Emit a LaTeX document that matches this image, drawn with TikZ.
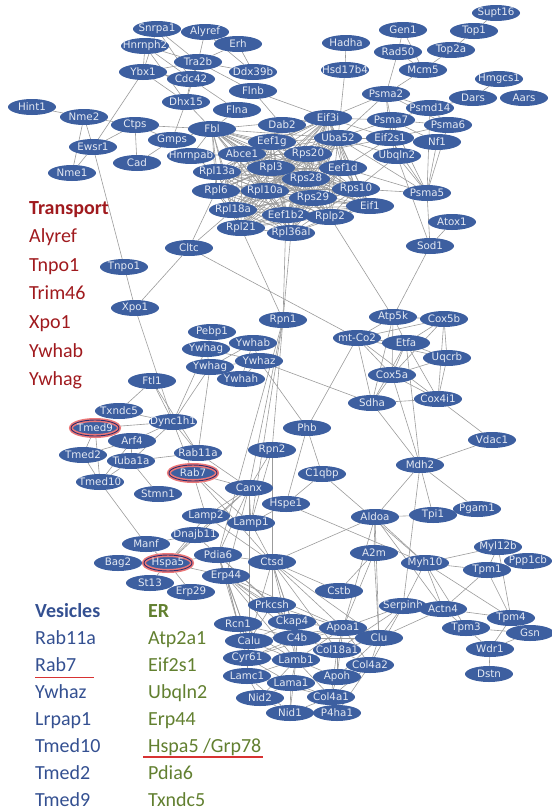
\documentclass[tikz,border=0pt]{standalone}
\usepackage{fontspec}
\setmainfont{Carlito}
\newfontfamily\genefont{DejaVu Sans}
\usetikzlibrary{shapes.geometric,backgrounds}

\definecolor{geneblue}{RGB}{61,95,160}
\definecolor{genetext}{RGB}{228,233,243}
\definecolor{edgegray}{RGB}{155,155,155}
\definecolor{glow}{RGB}{236,120,120}
\definecolor{hitline}{RGB}{45,45,110}
\definecolor{transred}{RGB}{160,26,30}
\definecolor{vesblue}{RGB}{52,80,145}
\definecolor{ergreen}{RGB}{98,128,48}
\definecolor{underred}{RGB}{215,50,50}

\newcommand{\gl}[1]{\makebox[0pt]{#1}}

\begin{document}
\begin{tikzpicture}[
		x=1pt, y=-1pt,
		gene/.style={ellipse, fill=geneblue, text=genetext, minimum width=48pt,
			minimum height=16pt, inner sep=0pt, font=\genefont\fontsize{10.3}{11}\selectfont},
		hit/.style={gene, draw=glow, line width=4pt,
			postaction={draw=hitline, line width=0.9pt}},
		edge/.style={draw=edgegray, line width=0.6pt},
		legend/.style={anchor=base west, inner sep=0pt, font=\fontsize{20}{24}\selectfont},
		legendhead/.style={legend, font=\fontsize{20}{24}\selectfont\bfseries},
		redline/.style={draw=underred, line width=1.3pt}
	]
	\useasboundingbox (0,0) rectangle (552,812);

	% protein nodes
	\foreach \n/\x/\y in {
		Snrpa1/157/29, Alyref/205/32, Erh/238/44, Hnrnph2/145/46, Tra2b/198/62,
		Ybx1/143/72, Cdc42/191/79, Ddx39b/253/72, Flnb/253/91, Dhx15/186/102,
		Flna/237/110, Hint1/32/107, Nme2/84/117, Ctps/135/125, Fbl/212/129,
		Gmps/172/140, Ewsr1/93/147, Cad/137/163, Hnrnpab/191/156, Nme1/72/173,
		Abce1/242/154, Rpl13a/217/172, Rpl6/216/191, Dab2/282/125, Eef1g/272/142,
		Eif3i/328/118, Uba52/338/138, Rps20/308/154, Rpl3/271/168, Eef1d/343/168,
		Rps28/306/179, Rpl10a/265/191, Rps10/356/189, Rps29/313/198, Eif1/370/206,
		Rpl18a/233/210, Eef1b2/286/215, Rplp2/330/217, Rpl21/241/228, Rpl36al/291/233,
		Cltc/189/248, Supt16/496/13, Top1/474/31, Gen1/403/30, Hadha/346/43,
		Rad50/398/52, Top2a/451/50, Hsd17b4/345/70, Mcm5/423/70, Hmgcs1/499/79,
		Psma2/386/94, Dars/473/98, Aars/524/98, Psmd14/430/108, Psma7/391/120,
		Psma6/448/125, Eif2s1/390/138, Nf1/437/142, Ubqln2/397/156, Psma5/427/193,
		Atox1/452/222, Sod1/430/246, Tnpo1/124/267, Xpo1/135/308, Pebp1/212/332,
		Ywhab/253/343, Ywhag/206/349, Ywhaz/259/361, Ywhah/241/379, Ftl1/152/381,
		Rpn1/283/320, Atp5k/393/317, Cox5b/444/319, Etfa/406/343, Uqcrb/447/358,
		Cox5a/392/375, Sdha/372/403, Cox4i1/438/399, Txndc5/119/411, Dync1h1/173/422,
		Arf4/132/441, Tmed2/83/455, Rab11a/198/453, Tuba1a/131/461, Tmed10/100/482,
		Stmn1/158/494, Canx/249/488, Phb/307/428, Vdac1/492/440, Rpn2/272/450,
		Mdh2/420/465, C1qbp/322/474, Hspe1/286/504, Lamp2/206/516, Lamp1/251/523,
		Aldoa/375/517, Tpi1/433/515, Pgam1/477/509, Dnajb11/195/535, Manf/146/544,
		Pdia6/218/555, Ctsd/272/562, A2m/374/553, Myl12b/498/547, Ppp1cb/528/561,
		Myh10/425/563, Tpm1/487/570, Bag2/118/563, Erp44/226/576, St13/150/583,
		Erp29/191/592, Cstb/339/591, Prkcsh/272/605, Serpinh/403/606, Actn4/443/609,
		Tpm4/511/618, Rcn1/238/624, Ckap4/292/622, Apoa1/343/628, Tpm3/466/628,
		Gsn/530/633, Calu/249/641, C4b/297/638, Clu/379/638, Col18a1/337/650,
		Wdr1/490/649, Cyr61/247/658, Lamb1/296/660, Col4a2/370/665, Dstn/489/674,
		Lamc1/247/676, Apoh/337/677, Lama1/291/683, Col4a1/331/697, Nid2/260/698,
		Nid1/290/713, P4ha1/337/713}
	{
		\node[gene] (\n) at (\x,\y) {\gl{\n}};
	}
	\node[gene] (mtCo2) at (357,338) {\gl{mt-Co2}};
	\node[gene] (Ywhagb) at (210,367) {\gl{Ywhag}};
	\node[hit] (Tmed9) at (95,428) {\gl{Tmed9}};
	\node[hit] (Rab7) at (193,473) {\gl{Rab7}};
	\node[hit] (Hspa5) at (168,563) {\gl{Hspa5}};

	% interactions
	\begin{scope}[on background layer]
		\def\ribo{Fbl,Abce1,Eef1g,Eif3i,Uba52,Rps20,Rpl3,Eef1d,Rpl13a,Rps28,Rpl6,
			Rpl10a,Rps10,Rps29,Eif1,Rpl18a,Eef1b2,Rplp2,Rpl21,Rpl36al}
		\foreach \a [count=\i] in \ribo {
			\foreach \b [count=\j] in \ribo {
				\ifnum\i<\j \draw[edge] (\a) -- (\b); \fi
			}
		}
		\foreach \a/\b in {
			Snrpa1/Tra2b, Snrpa1/Cdc42, Snrpa1/Ybx1, Hnrnph2/Ybx1, Hnrnph2/Tra2b,
			Hnrnph2/Dhx15, Hnrnph2/Cdc42, Alyref/Tra2b, Alyref/Ddx39b, Erh/Tra2b,
			Erh/Ddx39b, Ybx1/Tra2b, Ybx1/Cdc42, Ybx1/Dhx15, Ybx1/Ewsr1, Tra2b/Cdc42,
			Tra2b/Ddx39b, Tra2b/Dhx15, Tra2b/Flnb, Cdc42/Dhx15, Cdc42/Flna, Dhx15/Fbl,
			Dhx15/Gmps, Flnb/Dab2, Flnb/Eif3i, Flna/Fbl, Hint1/Nme2, Nme2/Ewsr1,
			Nme2/Nme1, Ewsr1/Nme1, Nme2/Ctps, Ctps/Fbl, Ctps/Ewsr1, Ctps/Cad,
			Ctps/Gmps, Gmps/Cad, Gmps/Fbl, Hnrnpab/Fbl, Hnrnpab/Abce1, Hnrnpab/Rpl13a,
			Dab2/Eef1g, Dab2/Eif3i, Dab2/Rps20, Ewsr1/Xpo1, Xpo1/Dync1h1, Xpo1/Cltc,
			Cltc/Rpl6, Cltc/Rpl18a, Cltc/mtCo2, Rpl21/Rpn1, Rpl36al/Rpn1,
			Eef1b2/Rpn1, Rplp2/Atp5k, Sod1/Atp5k, Sod1/Psma5, Sod1/Atox1,
			Ubqln2/Sod1, Supt16/Top1, Top1/Top2a, Top2a/Mcm5, Gen1/Rad50, Gen1/Mcm5,
			Rad50/Mcm5, Rad50/Psma2, Mcm5/Psma2, Hadha/Hsd17b4, Hsd17b4/Uba52,
			Hmgcs1/Dars, Dars/Psmd14, Psma2/Eif3i, Psma2/Psma7, Psma2/Psmd14,
			Psma2/Psma6, Psma2/Eif2s1, Psma2/Uba52, Psma7/Psma6, Psma7/Eif2s1,
			Psma7/Psmd14, Psma7/Ubqln2, Psma7/Psma5, Psmd14/Psma6, Psmd14/Psma5,
			Psma6/Psma5, Psma6/Eif2s1, Nf1/Psma5, Eif2s1/Nf1, Eif2s1/Ubqln2,
			Eif2s1/Psma5, Ubqln2/Psma5, Uba52/Eif2s1, Uba52/Psma7, Uba52/Ubqln2,
			Eif3i/Eif2s1, Eif3i/Psma7, Rps10/Ubqln2, Eef1d/Psma5, Uba52/Psma5,
			Rps20/Eif2s1, Eef1d/Eif2s1, Psma7/Nf1, Rps10/Psma5,
			Pebp1/Ywhag, Ywhab/Ywhag, Ywhab/Ywhaz, Ywhab/Ywhagb, Ywhag/Ywhaz,
			Ywhag/Ywhagb, Ywhagb/Ywhaz, Ywhagb/Ywhah, Ywhaz/Ywhah, Ywhab/Ywhah,
			Ywhagb/Dync1h1, Ywhag/Dync1h1, Ywhagb/Rab11a, Ftl1/Dync1h1, Ftl1/Txndc5,
			Ftl1/Rab11a, Txndc5/Dync1h1, Tmed9/Dync1h1, Tmed9/Arf4, Tmed9/Tmed2,
			Tmed9/Tmed10, Tmed2/Tmed10, Tmed2/Arf4, Tmed10/Tuba1a, Tmed10/Arf4,
			Arf4/Dync1h1, Tuba1a/Dync1h1, Arf4/Tuba1a, Dync1h1/Rab11a, Dync1h1/Rab7,
			Tuba1a/Rab11a, Tuba1a/Stmn1, Tmed10/Manf, Rab11a/Canx, Rab7/Lamp2,
			Rab7/Lamp1, Rab7/Canx, Rab7/Ctsd, Rpn1/Canx, Rpn1/Rpn2, Rpn1/Lamp1,
			Rpn1/Pdia6, Ywhaz/Phb, Ywhaz/Sdha, Phb/mtCo2, Phb/C1qbp, Phb/Hspe1,
			C1qbp/Hspe1, C1qbp/Myh10, Hspe1/Myh10, Hspe1/Lamp1, Canx/Lamp1,
			Canx/Lamp2, Canx/Pdia6, Canx/Dnajb11, Canx/Hspa5, Canx/Calu, Canx/Erp44,
			Rpn2/Canx, Rpn2/Ctsd, Rpn2/Lamp1, Lamp2/Lamp1, Lamp2/Ctsd, Lamp1/Ctsd,
			Lamp2/Hspa5, Dnajb11/Hspa5, Dnajb11/Pdia6, Manf/Hspa5, Manf/Dnajb11,
			Hspa5/Pdia6, Hspa5/Erp29, Hspa5/St13, Hspa5/Bag2, Pdia6/Ctsd,
			mtCo2/Atp5k, mtCo2/Cox5b, mtCo2/Etfa, mtCo2/Cox5a, mtCo2/Sdha,
			mtCo2/Uqcrb, mtCo2/Cox4i1, Atp5k/Cox5b, Atp5k/Etfa, Atp5k/Cox5a,
			Atp5k/Sdha, Cox5b/Etfa, Cox5b/Uqcrb, Cox5b/Cox4i1, Cox5b/Cox5a,
			Etfa/Cox5a, Etfa/Uqcrb, Etfa/Sdha, Etfa/Cox4i1, Uqcrb/Cox5a,
			Uqcrb/Cox4i1, Cox5a/Sdha, Cox5a/Cox4i1, Sdha/Cox4i1, Sdha/Mdh2,
			Cox5a/Mdh2, Etfa/Mdh2, Cox4i1/Vdac1, Mdh2/Vdac1, Mdh2/Aldoa, Mdh2/Tpi1,
			Mdh2/Pgam1, Mdh2/Serpinh, Aldoa/Tpi1, Aldoa/A2m, Aldoa/Ctsd, Aldoa/Myh10,
			Aldoa/Clu, Aldoa/Apoa1, A2m/Cstb, A2m/Apoa1, A2m/Clu, Ctsd/Cstb,
			Myh10/Myl12b, Myh10/Tpm1, Myh10/Actn4, Myh10/Tpm4, Myh10/Tpm3,
			Myh10/Serpinh, Myl12b/Ppp1cb, Myl12b/Tpm1, Myl12b/Tpm4, Tpm1/Tpm4,
			Tpm1/Actn4, Actn4/Tpm4, Actn4/Tpm3, Actn4/Serpinh, Tpm3/Wdr1, Tpm3/Gsn,
			Tpm4/Gsn, Tpm4/Wdr1, Wdr1/Gsn, Wdr1/Dstn, Aldoa/Actn4, Pgam1/Tpi1,
			Erp44/Prkcsh, Erp44/Rcn1, Erp44/Calu, Erp44/Ckap4, Erp44/C4b, Erp44/Cyr61,
			Erp44/Apoa1, Erp44/Lamb1, Pdia6/Erp44, Pdia6/Rcn1, Pdia6/Calu,
			Pdia6/Prkcsh, Pdia6/Ckap4, Hspa5/Erp44, Prkcsh/Calu, Prkcsh/Ckap4,
			Prkcsh/C4b, Prkcsh/Apoa1, Rcn1/Calu, Rcn1/C4b, Rcn1/Lamb1, Ckap4/C4b,
			Ckap4/Lamb1, Ckap4/Apoa1, Ckap4/Calu, Calu/Cyr61, Calu/C4b, Calu/Lamb1,
			Calu/Apoa1, Calu/Lamc1, C4b/Apoa1, C4b/Lamb1, C4b/Col18a1, C4b/Clu,
			C4b/Cyr61, Cyr61/Lamb1, Cyr61/Lamc1, Cyr61/Lama1, Cyr61/Apoa1,
			Lamb1/Lamc1, Lamb1/Lama1, Lamb1/Col18a1, Lamb1/Nid1, Lamb1/Nid2,
			Lamb1/Col4a1, Lamb1/Apoh, Lamb1/Apoa1, Lamc1/Lama1, Lamc1/Nid2,
			Lamc1/Nid1, Lamc1/Col4a1, Lama1/Nid1, Lama1/Nid2, Lama1/Col4a1,
			Lama1/Apoh, Nid1/Col4a1, Nid1/P4ha1, Nid2/Nid1, Col4a1/P4ha1, Col4a1/Apoh,
			Col4a1/Col4a2, Col4a1/Col18a1, Apoh/Col18a1, Apoh/Apoa1, Apoh/Clu,
			Col18a1/Apoa1, Col18a1/Col4a2, Col18a1/Clu, Col4a2/Clu, Col4a2/Apoa1,
			Col4a2/P4ha1, Apoa1/Clu, Apoa1/Serpinh, Clu/Serpinh, Clu/Actn4,
			Col4a2/Serpinh, Col18a1/Serpinh, Ctsd/Prkcsh, Ctsd/Ckap4, Ctsd/C4b,
			Ctsd/Calu, Ctsd/Apoa1, Ctsd/Lamb1, Ctsd/Col18a1, Ctsd/Clu}
		{
			\draw[edge] (\a) -- (\b);
		}
	\end{scope}

	% legend: transport
	\node[legendhead, text=transred] (transport) at (29,214) {Transport};
	\foreach \t [count=\k] in {Alyref,Tnpo1,Trim46,Xpo1,Ywhab,Ywhag}
		\node[legend, text=transred] (tr\k) at (29,{214+28.6*\k}) {\t};

	% legend: vesicles and ER
	\node[legendhead, text=vesblue] (vesicles) at (35,617) {Vesicles};
	\foreach \t [count=\k] in {Rab11a,Rab7,Ywhaz,Lrpap1,Tmed10,Tmed2,Tmed9}
		\node[legend, text=vesblue] (ves\k) at (35,{617+27.1*\k}) {\t};
	\node[legendhead, text=ergreen] (er) at (148,617) {ER};
	\foreach \t [count=\k] in {Atp2a1,Eif2s1,Ubqln2,Erp44,Hspa5 /Grp78,Pdia6,Txndc5}
		\node[legend, text=ergreen] (er\k) at (148,{617+27.1*\k}) {\t};

	\draw[redline] ([yshift=-6pt]ves2.base west) -- ++(59,0);
	\draw[redline] ([xshift=-5pt,yshift=-4.5pt]er5.base west) -- ++(120,0);
\end{tikzpicture}
\end{document}
